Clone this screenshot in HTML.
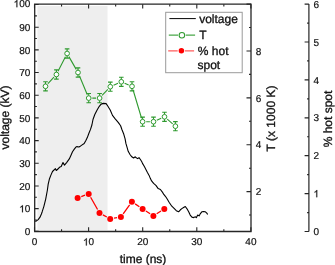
<!DOCTYPE html><html><head><meta charset="utf-8"><style>html,body{margin:0;padding:0;background:#fff;width:335px;height:265px;overflow:hidden}svg{display:block;will-change:transform}text{text-rendering:geometricPrecision;font-family:"Liberation Sans",sans-serif;fill:#111;stroke:#111;stroke-width:0.2px}text.t{stroke-width:0.32px}.g{fill:#111;stroke:#111;stroke-width:0.2px;vector-effect:non-scaling-stroke}</style></head><body>
<svg width="335" height="265" viewBox="0 0 335 265">
<rect x="37.4" y="6" width="70.1" height="224" fill="#eeeeee"/>
<polyline fill="none" stroke="#000" stroke-width="1.1" stroke-linejoin="round" points="34.8,221.0 35.9,221.2 38.2,219.6 40.0,217.2 41.4,214.0 42.2,211.7 43.9,206.3 45.7,199.1 47.4,190.0 48.2,184.1 49.5,178.7 50.9,175.1 52.5,171.5 55.4,168.7 56.3,170.5 57.9,169.0 60.0,166.9 61.2,166.4 63.0,162.6 64.5,165.1 66.6,162.6 69.3,158.9 71.1,155.0 72.5,151.8 74.3,149.1 75.7,147.3 77.0,146.6 78.4,147.0 79.8,146.6 81.4,145.4 84.2,143.5 86.0,140.3 87.3,137.6 89.0,133.0 90.5,129.4 91.9,125.0 93.0,119.5 94.8,114.5 97.1,110.0 99.3,106.3 101.1,104.1 103.4,103.4 106.1,103.6 107.9,106.3 110.2,110.0 112.5,115.4 115.2,118.8 118.4,122.6 120.6,125.7 122.0,129.8 123.8,134.3 125.1,138.9 125.9,143.4 127.3,148.2 128.2,151.3 130.0,154.5 131.8,156.8 133.6,158.0 135.0,156.8 136.3,157.7 137.7,158.6 139.0,157.7 140.4,159.5 141.8,161.8 142.5,163.4 144.5,166.8 145.9,169.5 147.3,172.2 149.1,175.4 150.4,178.6 151.6,180.9 153.6,183.4 155.9,185.4 158.2,188.6 160.4,189.5 162.2,191.8 163.6,194.1 165.4,196.3 167.2,199.0 169.1,202.2 171.8,206.2 174.1,208.4 176.3,210.7 178.6,211.8 180.4,209.8 182.2,208.4 183.6,207.5 185.3,206.5 187.0,208.8 188.8,212.0 190.2,215.1 191.9,217.1 193.7,217.6 195.4,216.8 196.3,217.7 197.7,215.0 199.1,215.9 200.4,213.6 201.8,211.8 203.6,211.6 205.4,211.8 206.8,213.1 207.7,214.5"/>
<path fill="none" stroke="#2f9a2f" stroke-width="1.1" d="M47.94 83.66L53.96 77.14M58.03 71.29L65.47 56.71M68.89 56.62L76.21 69.38M79.39 75.82L87.31 94.78M92.30 98.10L96.00 98.10M102.06 95.48L107.84 89.32M113.59 85.24L118.01 83.26M124.62 83.20L128.68 84.90M133.03 89.75L141.57 118.25M146.20 121.70L149.90 121.70M156.79 120.24L161.21 118.26M167.23 119.15L172.67 123.85"/>
<path fill="none" stroke="#2f9a2f" stroke-width="1.1" d="M43.20 81.70H47.80M45.50 81.70V84.00M45.50 88.60V90.90M43.20 90.90H47.80"/>
<circle cx="45.50" cy="86.30" r="2.35" fill="#fff" stroke="#2f9a2f" stroke-width="1.0"/>
<path fill="none" stroke="#2f9a2f" stroke-width="1.1" d="M54.10 69.90H58.70M56.40 69.90V72.20M56.40 76.80V79.10M54.10 79.10H58.70"/>
<circle cx="56.40" cy="74.50" r="2.35" fill="#fff" stroke="#2f9a2f" stroke-width="1.0"/>
<path fill="none" stroke="#2f9a2f" stroke-width="1.1" d="M64.80 48.90H69.40M67.10 48.90V51.20M67.10 55.80V58.10M64.80 58.10H69.40"/>
<circle cx="67.10" cy="53.50" r="2.35" fill="#fff" stroke="#2f9a2f" stroke-width="1.0"/>
<path fill="none" stroke="#2f9a2f" stroke-width="1.1" d="M75.70 67.90H80.30M78.00 67.90V70.20M78.00 74.80V77.10M75.70 77.10H80.30"/>
<circle cx="78.00" cy="72.50" r="2.35" fill="#fff" stroke="#2f9a2f" stroke-width="1.0"/>
<path fill="none" stroke="#2f9a2f" stroke-width="1.1" d="M86.40 93.50H91.00M88.70 93.50V95.80M88.70 100.40V102.70M86.40 102.70H91.00"/>
<circle cx="88.70" cy="98.10" r="2.35" fill="#fff" stroke="#2f9a2f" stroke-width="1.0"/>
<path fill="none" stroke="#2f9a2f" stroke-width="1.1" d="M97.30 93.50H101.90M99.60 93.50V95.80M99.60 100.40V102.70M97.30 102.70H101.90"/>
<circle cx="99.60" cy="98.10" r="2.35" fill="#fff" stroke="#2f9a2f" stroke-width="1.0"/>
<path fill="none" stroke="#2f9a2f" stroke-width="1.1" d="M108.00 82.10H112.60M110.30 82.10V84.40M110.30 89.00V91.30M108.00 91.30H112.60"/>
<circle cx="110.30" cy="86.70" r="2.35" fill="#fff" stroke="#2f9a2f" stroke-width="1.0"/>
<path fill="none" stroke="#2f9a2f" stroke-width="1.1" d="M119.00 77.20H123.60M121.30 77.20V79.50M121.30 84.10V86.40M119.00 86.40H123.60"/>
<circle cx="121.30" cy="81.80" r="2.35" fill="#fff" stroke="#2f9a2f" stroke-width="1.0"/>
<path fill="none" stroke="#2f9a2f" stroke-width="1.1" d="M129.70 81.70H134.30M132.00 81.70V84.00M132.00 88.60V90.90M129.70 90.90H134.30"/>
<circle cx="132.00" cy="86.30" r="2.35" fill="#fff" stroke="#2f9a2f" stroke-width="1.0"/>
<path fill="none" stroke="#2f9a2f" stroke-width="1.1" d="M140.30 117.10H144.90M142.60 117.10V119.40M142.60 124.00V126.30M140.30 126.30H144.90"/>
<circle cx="142.60" cy="121.70" r="2.35" fill="#fff" stroke="#2f9a2f" stroke-width="1.0"/>
<path fill="none" stroke="#2f9a2f" stroke-width="1.1" d="M151.20 117.10H155.80M153.50 117.10V119.40M153.50 124.00V126.30M151.20 126.30H155.80"/>
<circle cx="153.50" cy="121.70" r="2.35" fill="#fff" stroke="#2f9a2f" stroke-width="1.0"/>
<path fill="none" stroke="#2f9a2f" stroke-width="1.1" d="M162.20 112.20H166.80M164.50 112.20V114.50M164.50 119.10V121.40M162.20 121.40H166.80"/>
<circle cx="164.50" cy="116.80" r="2.35" fill="#fff" stroke="#2f9a2f" stroke-width="1.0"/>
<path fill="none" stroke="#2f9a2f" stroke-width="1.1" d="M173.10 121.60H177.70M175.40 121.60V123.90M175.40 128.50V130.80M173.10 130.80H177.70"/>
<circle cx="175.40" cy="126.20" r="2.35" fill="#fff" stroke="#2f9a2f" stroke-width="1.0"/>
<path fill="none" stroke="#ff0000" stroke-width="1.3" d="M81.27 196.58L85.03 195.22M90.63 197.29L97.57 209.51M102.90 214.81L106.80 216.99M114.04 218.22L117.06 217.68M123.18 213.83L129.62 204.87M135.14 203.88L139.36 206.72M145.87 211.02L150.13 213.78M156.68 213.79L161.02 211.01"/>
<circle cx="77.60" cy="197.90" r="3.0" fill="#ff0000"/>
<circle cx="88.70" cy="193.90" r="3.0" fill="#ff0000"/>
<circle cx="99.50" cy="212.90" r="3.0" fill="#ff0000"/>
<circle cx="110.20" cy="218.90" r="3.0" fill="#ff0000"/>
<circle cx="120.90" cy="217.00" r="3.0" fill="#ff0000"/>
<circle cx="131.90" cy="201.70" r="3.0" fill="#ff0000"/>
<circle cx="142.60" cy="208.90" r="3.0" fill="#ff0000"/>
<circle cx="153.40" cy="215.90" r="3.0" fill="#ff0000"/>
<circle cx="164.30" cy="208.90" r="3.0" fill="#ff0000"/>
<path fill="none" stroke="#262626" stroke-width="1.3" d="M34.7 231.5V4.2H251V231.5Z"/>
<path fill="none" stroke="#262626" stroke-width="1.1" d="M34.50 231.5V227.30M34.50 4.2V8.40M61.55 231.5V229.30M61.55 4.2V6.40M88.60 231.5V227.30M88.60 4.2V8.40M115.65 231.5V229.30M115.65 4.2V6.40M142.70 231.5V227.30M142.70 4.2V8.40M169.75 231.5V229.30M169.75 4.2V6.40M196.80 231.5V227.30M196.80 4.2V8.40M223.85 231.5V229.30M223.85 4.2V6.40M250.90 231.5V227.30M250.90 4.2V8.40M34.7 231.30H38.70M34.7 219.96H36.90M34.7 208.62H38.70M34.7 197.28H36.90M34.7 185.94H38.70M34.7 174.60H36.90M34.7 163.26H38.70M34.7 151.92H36.90M34.7 140.58H38.70M34.7 129.24H36.90M34.7 117.90H38.70M34.7 106.56H36.90M34.7 95.22H38.70M34.7 83.88H36.90M34.7 72.54H38.70M34.7 61.20H36.90M34.7 49.86H38.70M34.7 38.52H36.90M34.7 27.18H38.70M34.7 15.84H36.90M34.7 4.50H38.70M251 215.06H249.00M251 191.62H246.50M251 168.18H249.00M251 144.74H246.50M251 121.30H249.00M251 97.86H246.50M251 74.42H249.00M251 50.98H246.50M251 27.54H249.00M251 4.10H246.50"/>
<path fill="none" stroke="#262626" stroke-width="1.2" d="M308.9 4.1V231.5M308.9 231.50H304.60M308.9 212.55H307.10M308.9 193.60H304.60M308.9 174.65H307.10M308.9 155.70H304.60M308.9 136.75H307.10M308.9 117.80H304.60M308.9 98.85H307.10M308.9 79.90H304.60M308.9 60.95H307.10M308.9 42.00H304.60M308.9 23.05H307.10M308.9 4.10H304.60"/>
<text x="24.74" y="235.00" font-size="10">0</text>
<text x="19.18" y="212.32" font-size="10"> 0</text><path class="g" transform="translate(19.177 212.320) scale(0.00488 -0.00488)" d="M763 0H583V1147Q518 1085 412.5 1023T223 930V1104Q373 1175 485.5 1276T645 1472H763V0Z"/>
<text x="19.18" y="189.64" font-size="10">20</text>
<text x="19.18" y="166.96" font-size="10">30</text>
<text x="19.18" y="144.28" font-size="10">40</text>
<text x="19.18" y="121.60" font-size="10">50</text>
<text x="19.18" y="98.92" font-size="10">60</text>
<text x="19.18" y="76.24" font-size="10">70</text>
<text x="19.18" y="53.56" font-size="10">80</text>
<text x="19.18" y="30.88" font-size="10">90</text>
<text x="13.62" y="7.20" font-size="10"> 00</text><path class="g" transform="translate(13.615 7.200) scale(0.00488 -0.00488)" d="M763 0H583V1147Q518 1085 412.5 1023T223 930V1104Q373 1175 485.5 1276T645 1472H763V0Z"/>
<text x="31.72" y="245.40" font-size="10">0</text>
<text x="83.04" y="245.40" font-size="10"> 0</text><path class="g" transform="translate(83.038 245.400) scale(0.00488 -0.00488)" d="M763 0H583V1147Q518 1085 412.5 1023T223 930V1104Q373 1175 485.5 1276T645 1472H763V0Z"/>
<text x="137.14" y="245.40" font-size="10">20</text>
<text x="191.24" y="245.40" font-size="10">30</text>
<text x="245.34" y="245.40" font-size="10">40</text>
<text x="255.80" y="195.32" font-size="10">2</text>
<text x="255.80" y="148.44" font-size="10">4</text>
<text x="255.80" y="101.56" font-size="10">6</text>
<text x="255.80" y="54.68" font-size="10">8</text>
<text x="313.50" y="235.10" font-size="10">0</text>
<text x="313.50" y="197.20" font-size="10"> </text><path class="g" transform="translate(313.500 197.200) scale(0.00488 -0.00488)" d="M763 0H583V1147Q518 1085 412.5 1023T223 930V1104Q373 1175 485.5 1276T645 1472H763V0Z"/>
<text x="313.50" y="159.30" font-size="10">2</text>
<text x="313.50" y="121.40" font-size="10">3</text>
<text x="313.50" y="83.50" font-size="10">4</text>
<text x="313.50" y="45.60" font-size="10">5</text>
<text x="313.50" y="7.70" font-size="10">6</text>
<text class="t" x="143" y="263" font-size="12" text-anchor="middle">time (ns)</text>
<text class="t" transform="translate(9.3 117.5) rotate(-90)" font-size="12" text-anchor="middle">voltage (kV)</text>
<text class="t" transform="translate(274.6 118.5) rotate(-90)" font-size="12" text-anchor="middle">T (x 1000 K)</text>
<text class="t" transform="translate(332 119) rotate(-90)" font-size="12" text-anchor="middle">% hot spot</text>
<rect x="165.7" y="12.3" width="76.5" height="60.4" fill="#fff" stroke="#9a9a9a" stroke-width="1"/>
<path stroke="#000" stroke-width="1" d="M169.4 18.6H195.8"/>
<path stroke="#4aa84a" stroke-width="1.25" d="M168.8 35.2H178.1M185.7 35.2H195.1"/>
<circle cx="181.9" cy="35.2" r="2.75" fill="#fff" stroke="#2f9a2f" stroke-width="1.05"/>
<path stroke="#ff5c5c" stroke-width="1.25" d="M168.2 50.8H177.7M184.9 50.8H194.1"/>
<circle cx="181.4" cy="50.8" r="2.75" fill="#ff0000"/>
<text class="t" x="199.2" y="23.0" font-size="12">voltage</text>
<text class="t" x="199.2" y="39.1" font-size="12">T</text>
<text class="t" x="197.8" y="55.1" font-size="12">% hot</text>
<text class="t" x="197.5" y="69.3" font-size="12">spot</text>
</svg></body></html>
